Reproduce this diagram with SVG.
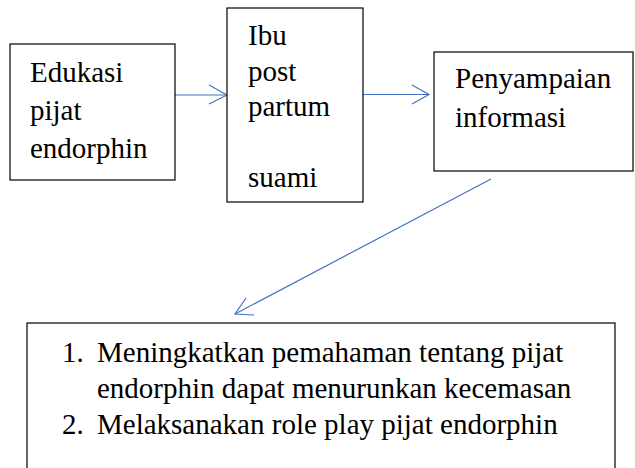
<svg xmlns="http://www.w3.org/2000/svg" width="635" height="468" viewBox="0 0 635 468">
<style>
.box{fill:#fff;stroke:#000;stroke-width:1.2}
.c{fill:none;stroke:#4472C4;stroke-width:1.2}
text{font-family:'Liberation Serif','Times New Roman','DejaVu Serif',serif;font-size:29px;fill:#000}
</style>
<rect width="635" height="468" fill="#fff"/>
<g id="connectors">
<line class="c" x1="175" y1="95" x2="227" y2="95"/>
<polyline class="c" points="209,85 227,95 209,104"/>
<line class="c" x1="363" y1="94.5" x2="429" y2="94.5"/>
<polyline class="c" points="412,85 429,94.5 412,104"/>
<line class="c" x1="491" y1="179" x2="235" y2="314"/>
<polyline class="c" points="246,298 235,314 254,315"/>
</g>
<g id="node-edukasi" font-family="Liberation Serif, serif">
<rect class="box" x="10" y="44" width="165" height="136"/>
<text x="30" y="82">Edukasi</text>
<text x="30" y="120">pijat</text>
<text x="30" y="158">endorphin</text>
</g>
<g id="node-ibu">
<rect class="box" x="227" y="8" width="136" height="194"/>
<text x="248" y="45">Ibu</text>
<text x="248" y="80.5">post</text>
<text x="248" y="116">partum</text>
<text x="248" y="187">suami</text>
</g>
<g id="node-penyampaian">
<rect class="box" x="434" y="52" width="199" height="119"/>
<text x="455" y="88">Penyampaian</text>
<text x="455" y="127">informasi</text>
</g>
<g id="node-hasil">
<rect class="box" x="27" y="323" width="588" height="160"/>
<text x="62" y="362">1.</text>
<text x="97" y="362">Meningkatkan pemahaman tentang pijat</text>
<text x="97" y="398">endorphin dapat menurunkan kecemasan</text>
<text x="62" y="434">2.</text>
<text x="97" y="434">Melaksanakan role play pijat endorphin</text>
</g>
</svg>
